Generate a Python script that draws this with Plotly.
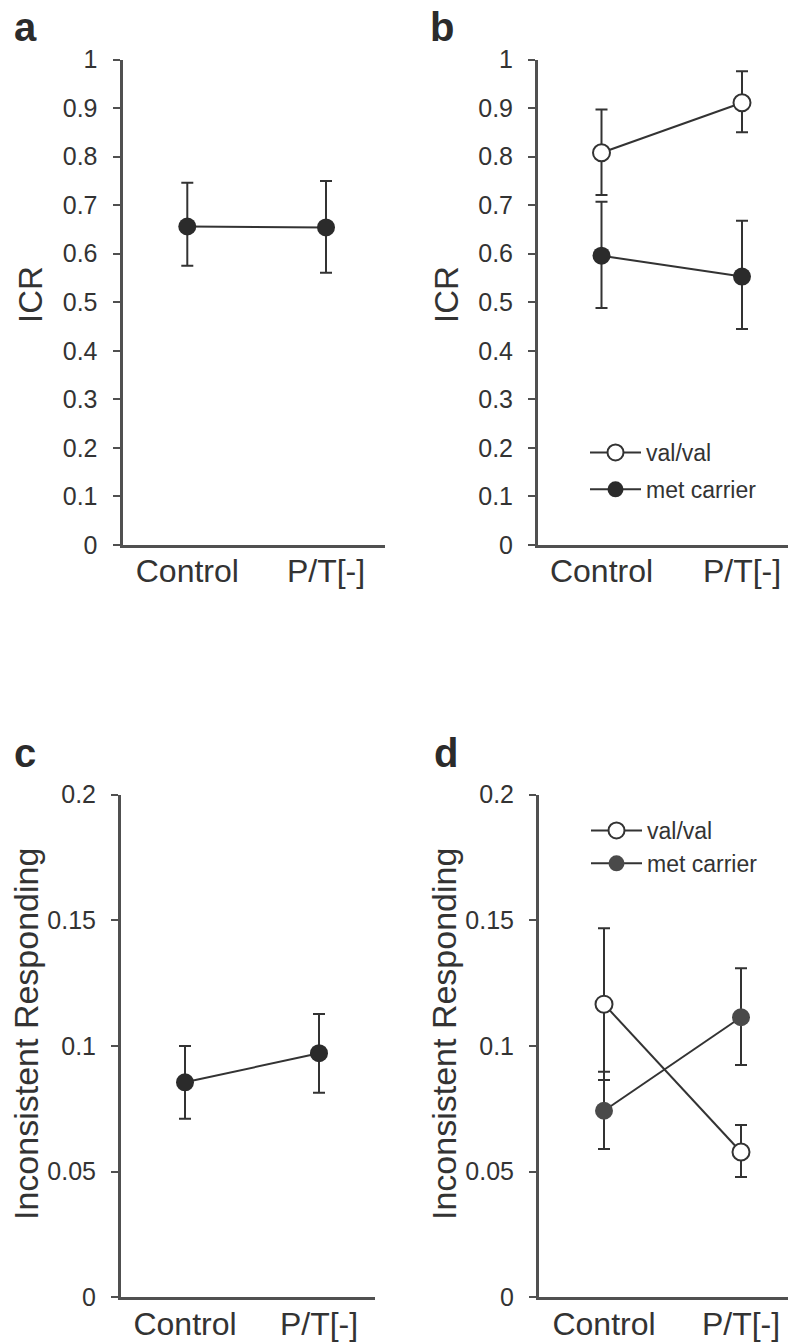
import plotly.graph_objects as go

W, H = 788, 1343

categories = ["Control", "P/T[-]"]

# Panel a: ICR, all participants
icr_all = [0.656, 0.654]
icr_all_plus = [0.090, 0.096]
icr_all_minus = [0.081, 0.093]

# Panel b: ICR by genotype
icr_val = [0.808, 0.911]
icr_val_plus = [0.089, 0.065]
icr_val_minus = [0.087, 0.061]
icr_met = [0.596, 0.553]
icr_met_plus = [0.111, 0.115]
icr_met_minus = [0.108, 0.108]

# Panel c: Inconsistent responding, all participants
ir_all = [0.0855, 0.0971]
ir_all_plus = [0.0145, 0.0156]
ir_all_minus = [0.0145, 0.0157]

# Panel d: Inconsistent responding by genotype
ir_val = [0.1166, 0.0578]
ir_val_plus = [0.0302, 0.0107]
ir_val_minus = [0.0302, 0.0099]
ir_met = [0.0742, 0.1114]
ir_met_plus = [0.0155, 0.0195]
ir_met_minus = [0.0152, 0.0190]

icr_tickvals = [0, 0.1, 0.2, 0.3, 0.4, 0.5, 0.6, 0.7, 0.8, 0.9, 1]
icr_ticktext = ["0", "0.1", "0.2", "0.3", "0.4", "0.5", "0.6", "0.7", "0.8", "0.9", "1"]
ir_tickvals = [0, 0.05, 0.1, 0.15, 0.2]
ir_ticktext = ["0", "0.05", "0.1", "0.15", "0.2"]

FONT = "Arial, Liberation Sans, Helvetica, sans-serif"
TXT = "#333333"
AX = "#505050"
DARK = "#2b2b2b"
GREY = "#4a4a4a"


def fx(px):
    return px / W


def fy(py):
    return 1 - py / H


fig = go.Figure()


def add_series(y, plus, minus, xa, ya, name, filled, color, legend=None, showlegend=False, group=None):
    fig.add_trace(go.Scatter(
        x=categories, y=y, xaxis=xa, yaxis=ya, name=name,
        mode="lines+markers",
        line=dict(color="#333333", width=2),
        marker=dict(size=18 if filled else 17,
                    color=color if filled else "white",
                    line=dict(color="#333333" if not filled else color, width=0 if filled else 2)),
        error_y=dict(type="data", symmetric=False, array=plus, arrayminus=minus,
                     color="#333333", thickness=2, width=6),
        showlegend=showlegend,
        legend=legend if legend else "legend",
        legendgroup=group,
        cliponaxis=False,
    ))


add_series(icr_all, icr_all_plus, icr_all_minus, "x", "y", "all", True, DARK)
add_series(icr_val, icr_val_plus, icr_val_minus, "x2", "y2", "val/val", False, DARK,
           legend="legend", showlegend=True, group="b1")
add_series(icr_met, icr_met_plus, icr_met_minus, "x2", "y2", "met carrier", True, DARK,
           legend="legend", showlegend=True, group="b2")
add_series(ir_all, ir_all_plus, ir_all_minus, "x3", "y3", "all", True, DARK)
add_series(ir_val, ir_val_plus, ir_val_minus, "x4", "y4", "val/val", False, GREY,
           legend="legend2", showlegend=True, group="d1")
add_series(ir_met, ir_met_plus, ir_met_minus, "x4", "y4", "met carrier", True, GREY,
           legend="legend2", showlegend=True, group="d2")


def xaxis(left, right, c0, c1):
    unit = c1 - c0
    return dict(
        domain=[fx(left), fx(right)],
        type="category", categoryarray=categories,
        range=[(left - c0) / unit, (right - c0) / unit],
        showline=True, linecolor=AX, linewidth=3,
        ticks="", showgrid=False, zeroline=False,
        ticklabelstandoff=-4,
        tickfont=dict(size=32, color=TXT, family=FONT),
        fixedrange=True, automargin=False,
    )


def yaxis(top, bottom, rng, tv, tt, xa):
    return dict(
        domain=[fy(bottom), fy(top)], anchor=xa,
        range=rng, tickvals=tv, ticktext=tt,
        showline=True, linecolor=AX, linewidth=3,
        ticks="outside", ticklen=7, tickwidth=2, tickcolor=AX,
        ticklabelstandoff=10,
        showgrid=False, zeroline=False,
        tickfont=dict(size=25, color=TXT, family=FONT),
        fixedrange=True, automargin=False,
    )


layout = dict(
    width=W, height=H,
    margin=dict(l=0, r=0, t=0, b=0, autoexpand=False),
    paper_bgcolor="white", plot_bgcolor="white",
    font=dict(family=FONT, color=TXT),
    xaxis=dict(xaxis(122.5, 385, 187.3, 326), anchor="y"),
    yaxis=yaxis(59.5, 545, [0, 1], icr_tickvals, icr_ticktext, "x"),
    xaxis2=dict(xaxis(538, 788, 601.5, 742), anchor="y2"),
    yaxis2=yaxis(59.5, 545, [0, 1], icr_tickvals, icr_ticktext, "x2"),
    xaxis3=dict(xaxis(121, 375, 185, 319), anchor="y3"),
    yaxis3=yaxis(794.5, 1297.3, [0, 0.2], ir_tickvals, ir_ticktext, "x3"),
    xaxis4=dict(xaxis(539, 788, 604, 741), anchor="y4"),
    yaxis4=yaxis(794.5, 1297.3, [0, 0.2], ir_tickvals, ir_ticktext, "x4"),
    legend=dict(x=fx(585), y=fy(431), xanchor="left", yanchor="top",
                bgcolor="rgba(0,0,0,0)", borderwidth=0, itemwidth=51,
                font=dict(size=23, color=TXT, family=FONT), tracegroupgap=4,
                itemclick=False, itemdoubleclick=False),
    legend2=dict(x=fx(586), y=fy(809), xanchor="left", yanchor="top",
                 bgcolor="rgba(0,0,0,0)", borderwidth=0, itemwidth=51,
                 font=dict(size=23, color=TXT, family=FONT), tracegroupgap=0,
                 itemclick=False, itemdoubleclick=False),
    showlegend=True,
)
fig.update_layout(**layout)

annots = [
    ("a", 12, 27, 40),
    ("b", 428, 27, 40),
    ("c", 12, 753, 40),
    ("d", 432, 753, 40),
]
for t, x, y, s in annots:
    fig.add_annotation(text=f"<b>{t}</b>", x=fx(x), y=fy(y), xref="paper", yref="paper",
                       xanchor="left", yanchor="middle", showarrow=False,
                       font=dict(size=s, color=DARK, family=FONT))

titles = [
    ("ICR", 30, 295, 33),
    ("ICR", 446, 295, 33),
    ("Inconsistent Responding", 26, 1034, 34),
    ("Inconsistent Responding", 444, 1034, 34),
]
for t, x, y, s in titles:
    fig.add_annotation(text=t, x=fx(x), y=fy(y), xref="paper", yref="paper",
                       xanchor="center", yanchor="middle", showarrow=False, textangle=-90,
                       font=dict(size=s, color=TXT, family=FONT))

fig.write_html(
    "out.html",
    config={"displayModeBar": False},
    post_script="document.body.style.margin='0';document.body.style.padding='0';"
                "document.body.style.overflow='hidden';",
)
